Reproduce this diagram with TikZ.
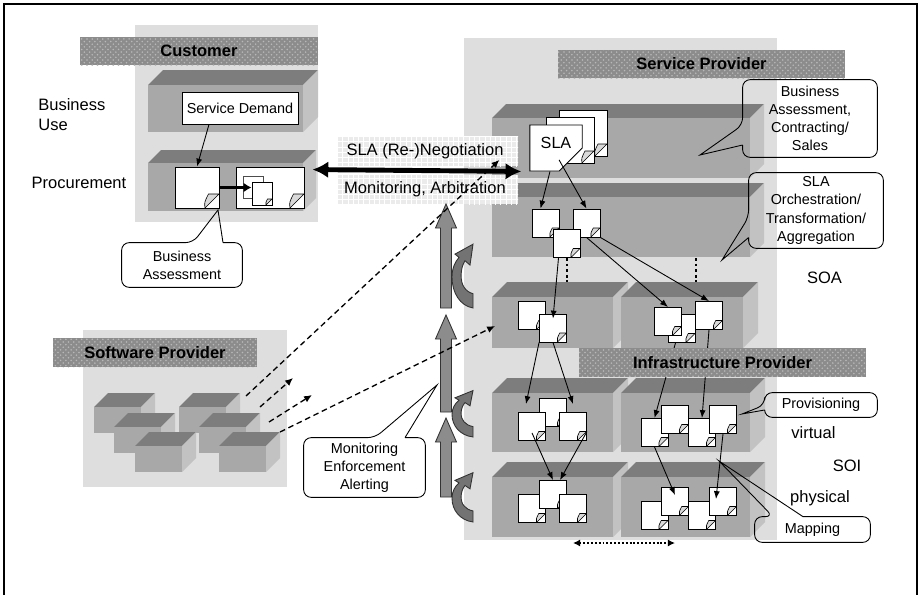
\documentclass[tikz,border=0pt]{standalone}
\usepackage{fontspec}
\setmainfont{Liberation Sans}
\usetikzlibrary{arrows.meta,calc,patterns,shapes.misc,positioning}
\newcommand{\pxunit}{0.02cm}
\colorlet{bggray}{black!13}
\colorlet{slabfront}{black!34}
\colorlet{slabtop}{black!51}
\colorlet{slabside}{black!24}
\colorlet{foldgray}{black!15}
\tikzset{
    framesty/.style={line width=1.1pt},
    bannersty/.style={fill=black!45, postaction={pattern=crosshatch dots, pattern color=black!28}, inner sep=0pt, font=\bfseries\fontsize{9.4}{11}\selectfont},
    bandsty/.style={fill=black!8, postaction={pattern=grid, pattern color=white}},
    lblsty/.style={font=\fontsize{9.4}{11}\selectfont, inner sep=0pt},
    callsty/.style={font=\fontsize{8.2}{10.3}\selectfont, align=center, inner sep=0pt},
    calllinesty/.style={line width=0.5pt, rounded corners=0.15cm},
    sheetsty/.style={chamfered rectangle, chamfered rectangle corners=south east,
        chamfered rectangle xsep=#1*\pxunit, chamfered rectangle ysep=#1*\pxunit,
        draw, fill=white, line width=0.5pt, inner sep=0pt, font=\fontsize{9.2}{11}\selectfont,
        path picture={\draw[fill=foldgray, line width=0.35pt]
            ($(path picture bounding box.south east)+(-#1*\pxunit,0pt)$)
            .. controls +(-0.05*#1*\pxunit,0.4*#1*\pxunit) ..
            ($(path picture bounding box.south east)+(-0.75*#1*\pxunit,1.0*#1*\pxunit)$)
            -- ($(path picture bounding box.south east)+(0pt,#1*\pxunit)$) -- cycle;}},
    smallsheet/.style={sheetsty=9, minimum width=27*\pxunit, minimum height=28*\pxunit},
    flowsty/.style={-{Latex[length=4.5pt,width=3.4pt]}, line width=0.5pt},
    swsty/.style={-{Latex[length=4.5pt,width=4pt]}, line width=0.75pt, dash pattern=on 3.2pt off 2.1pt},
    dotsty/.style={line width=1.6pt, dash pattern=on 1.6pt off 1.6pt},
    blocksty/.style={fill=black!45, draw=black!80, line width=0.5pt},
    loopsty/.style={fill=black!55, draw=black!80, line width=0.5pt},
}
% box seen from the front: front face, top face and right side
\newcommand{\slab}[5]{%
  \fill[slabtop] (#1,#2) -- (#1+#5,#2-#5) -- (#3+#5,#2-#5) -- (#3,#2) -- cycle;
  \fill[slabside] (#3,#2) -- (#3+#5,#2-#5) -- (#3+#5,#4-#5) -- (#3,#4) -- cycle;
  \fill[slabfront] (#1,#2) rectangle (#3,#4);
}
\newcommand{\swcube}[3]{%
  \slab{#2}{#3}{#2+47}{#3+26}{14}
  \coordinate (#1) at (#2+61,#3-14);
}
% upward block arrow: x, tip, bottom
\newcommand{\blockup}[3]{%
  \draw[blocksty] (#1-5.5,#3) -- (#1-5.5,#2+24) -- (#1-10.5,#2+24) -- (#1,#2)
    -- (#1+10.5,#2+24) -- (#1+5.5,#2+24) -- (#1+5.5,#3) -- cycle;
}
% curled arrow beside a block arrow
\newcommand{\loopup}[2]{%
  \draw[loopsty, shift={#1}, yscale=#2]
    (21,0) .. controls (8,-2) and (0,-14) .. (0,-28)
    .. controls (0,-36) and (3,-42) .. (7,-46)
    -- (3,-49) -- (21,-58) -- (18,-39) -- (13,-43)
    .. controls (8,-36) and (8,-24) .. (12,-19)
    .. controls (14,-16) and (17,-14) .. (21,-13) -- cycle;
}
% callout outlines, pointer leaving the west or the north side
\newcommand{\callwest}[4]{%
  \draw[calllinesty] ([yshift=#3*\pxunit]#1.west) -- (#1.south west) -- (#1.south east)
    -- (#1.north east) -- (#1.north west) -- ([yshift=#2*\pxunit]#1.west)
    [sharp corners] -- #4 -- ([yshift=#3*\pxunit]#1.west);
}
\newcommand{\callnorth}[4]{%
  \draw[calllinesty] ([xshift=#3*\pxunit]#1.north) -- (#1.north east) -- (#1.south east)
    -- (#1.south west) -- (#1.north west) -- ([xshift=#2*\pxunit]#1.north)
    [sharp corners] -- #4 -- ([xshift=#3*\pxunit]#1.north);
}

\begin{document}
\begin{tikzpicture}[x=\pxunit, y=-\pxunit]
  \useasboundingbox (0,0) rectangle (921,595);
  \draw[framesty] (4,600) -- (4,4) -- (917,4) -- (917,600);

  % group backgrounds
  \fill[bggray] (135,25) rectangle (318,222);
  \fill[bggray] (464,38) rectangle (777,540);
  \fill[bggray] (83,330) rectangle (287,487);

  % customer layers
  \slab{148}{85}{303}{132}{15}
  \slab{148}{163}{303}{211}{13}

  % provider layers
  \slab{492}{118}{750}{178}{14}
  \slab{492}{197}{750}{257}{14}
  \slab{492}{297}{613}{348}{15}
  \slab{621}{297}{743}{348}{15}
  \slab{492}{393}{613}{452}{15}
  \slab{621}{393}{750}{452}{15}
  \slab{492}{477}{613}{537}{15}
  \slab{621}{477}{750}{537}{15}

  % software components
  \swcube{c1}{94}{407}
  \swcube{c4}{179}{407}
  \swcube{c2}{114}{427}
  \swcube{c5}{199}{427}
  \swcube{c3}{135}{446}
  \swcube{c6}{219}{446}

  \fill[bandsty] (338,136) rectangle (518,166);
  \fill[bandsty] (338,175) rectangle (518,204);

  \draw[dotsty] (567,258) -- (567,282);
  \draw[dotsty] (696,258) -- (696,282);

  % customer side
  \node[draw, fill=white, line width=0.5pt, minimum width=116*\pxunit, minimum height=32*\pxunit, inner sep=0pt, font=\fontsize{8.2}{10}\selectfont] (sdem) at (240,108) {Service Demand};
  \node[sheetsty=14, minimum width=44*\pxunit, minimum height=41*\pxunit] (cdoc1) at (197,187.5) {};
  \node[sheetsty=14, minimum width=68*\pxunit, minimum height=41*\pxunit] (cdoc2) at (270,187.5) {};
  \node[sheetsty=5, minimum width=20*\pxunit, minimum height=22*\pxunit, draw=black!70] (cin1) at (253,187) {};
  \node[sheetsty=6, minimum width=20*\pxunit, minimum height=23*\pxunit] (cin2) at (262,193.5) {};

  % SLA stack
  \node[sheetsty=12, minimum width=48*\pxunit, minimum height=46*\pxunit] (slaC) at (583,133) {};
  \node[sheetsty=12, minimum width=48*\pxunit, minimum height=46*\pxunit] (slaB) at (570,140) {};
  \node[sheetsty=12, minimum width=48*\pxunit, minimum height=46*\pxunit, text depth=6pt] (slaA) at (556,148) {SLA};

  \node[smallsheet] (l2a) at (545.5,223) {};
  \node[smallsheet] (l2b) at (586.5,223) {};
  \node[smallsheet] (l2c) at (566.5,243.5) {};

  \node[smallsheet] (l3l1) at (532,315.5) {};
  \node[smallsheet] (l3l2) at (553,328) {};
  \node[smallsheet] (l3r2) at (681.5,328.5) {};
  \node[smallsheet] (l3r1) at (668,321.5) {};
  \node[smallsheet] (l3r3) at (709,315.5) {};

  \node[smallsheet] (l4l2) at (553,412.5) {};
  \node[smallsheet] (l4l1) at (532,426.5) {};
  \node[smallsheet] (l4l3) at (573,426.5) {};
  \node[smallsheet] (l4r1) at (654.5,432.5) {};
  \node[smallsheet] (l4r2) at (675,419.5) {};
  \node[smallsheet] (l4r3) at (702,432.5) {};
  \node[smallsheet] (l4r4) at (723,419.5) {};

  \node[smallsheet] (l5l1) at (532,508.5) {};
  \node[smallsheet] (l5l2) at (553,494.5) {};
  \node[smallsheet] (l5l3) at (573,508.5) {};
  \node[smallsheet] (l5r1) at (654.5,515.5) {};
  \node[smallsheet] (l5r2) at (675,501.5) {};
  \node[smallsheet] (l5r3) at (702,515.5) {};
  \node[smallsheet] (l5r4) at (723,501.5) {};

  % refinement arrows
  \draw[flowsty] ([xshift=-31*\pxunit]sdem.south) -- (cdoc1.north);
  \draw[-{Latex[length=4.5pt,width=5.5pt]}, line width=1.7pt] (cdoc1.east) -- (cdoc1.east -| cin2.west);
  \draw[flowsty] ([xshift=-6*\pxunit]slaA.south) -- ([xshift=-5*\pxunit]l2a.north);
  \draw[flowsty] ([xshift=-12*\pxunit]slaA.south east) -- (l2b.north);
  \draw[flowsty] ([xshift=-8*\pxunit]l2c.south) -- ([yshift=-5*\pxunit]l3l2.north);
  \draw[flowsty] (l2b.south) -- (l3r1.north);
  \draw[flowsty] (l2b.south east) -- (l3r3.north);
  \draw[flowsty] (l3l2.south west) -- ([xshift=-6*\pxunit,yshift=8*\pxunit]l4l1.north);
  \draw[flowsty] (l3l2.south) -- ([yshift=8*\pxunit]l4l3.north);
  \draw[flowsty] ([xshift=-6*\pxunit]l3r2.south) -- (l4r1.north);
  \draw[flowsty] (l3r3.south) -- (l4r3.north);
  \draw[flowsty] ([yshift=8*\pxunit]l4l1.south) -- (l5l2.north);
  \draw[flowsty] ([yshift=-5*\pxunit]l4l3.east) -- ([xshift=7*\pxunit]l5l2.north);
  \draw[flowsty] (l4r1.south) -- ([yshift=-8*\pxunit]l5r2.north);
  \draw[flowsty] (l4r4.south) -- ([xshift=-7*\pxunit,yshift=-12*\pxunit]l5r4.north);

  \coordinate (migl) at (573,543);
  \coordinate (migr) at (675,543);
  \draw[{Latex[length=4pt,width=4pt]}-{Latex[length=4pt,width=4pt]}, line width=1.1pt, dash pattern=on 1.1pt off 1.1pt] (migl) -- (migr);

  % role banners
  \node[bannersty, minimum width=238*\pxunit, minimum height=28*\pxunit] (custbanner) at (199,51) {Customer};
  \node[bannersty, minimum width=287*\pxunit, minimum height=28*\pxunit] (spbanner) at (701.5,64) {Service Provider};
  \node[bannersty, minimum width=287*\pxunit, minimum height=29*\pxunit] (ipbanner) at (722.5,362.5) {Infrastructure Provider};
  \node[bannersty, minimum width=204*\pxunit, minimum height=29*\pxunit] (swbanner) at (155,352.5) {Software Provider};

  % callouts
  \node[callsty, minimum width=134*\pxunit, minimum height=77*\pxunit] (bacall) at (810,118.5) {Business\\Assessment,\\Contracting/\\Sales};
  \callwest{bacall}{-6.5}{-26.5}{(700,155)}
  \node[callsty, minimum width=134*\pxunit, minimum height=75*\pxunit] (orcall) at (816,210.5) {SLA\\Orchestration/\\Transformation/\\Aggregation};
  \callwest{orcall}{-6.5}{-27}{(722,260)}
  \node[callsty, minimum width=112*\pxunit, minimum height=24*\pxunit] (provcall) at (821,405) {Provisioning};
  \callwest{provcall}{0}{-5}{(742,414)}
  \node[callsty, minimum width=115*\pxunit, minimum height=25*\pxunit] (mapcall) at (812.5,529.5) {Mapping};
  \callnorth{mapcall}{-39.5}{-9.5}{(719,461)}
  \node[callsty, minimum width=120*\pxunit, minimum height=44*\pxunit] (cbacall) at (182,265) {Business\\Assessment};
  \callnorth{cbacall}{11}{41}{(218,210)}
  \node[callsty, minimum width=121*\pxunit, minimum height=59*\pxunit] (moncall) at (364.5,467.5) {Monitoring\\Enforcement\\Alerting};
  \callnorth{moncall}{10.5}{40.5}{(437,385)}

  % layer names
  \node[lblsty, align=left, anchor=west] (buslbl) at (38,114.5) {Business\\Use};
  \node[lblsty] (proclbl) at (79,183) {Procurement};
  \node[lblsty] (soalbl) at (824.5,278) {SOA};
  \node[lblsty] (virtlbl) at (813.5,433) {virtual};
  \node[lblsty] (soilbl) at (847,466) {SOI};
  \node[lblsty] (physlbl) at (820,498) {physical};
  \node[lblsty] (negtxt) at (425,151) {SLA (Re-)Negotiation};
  \node[lblsty] (arbtxt) at (425,189) {Monitoring, Arbitration};

  \draw[{Latex[length=9pt,width=9.5pt]}-{Latex[length=9pt,width=9.5pt]}, line width=2.8pt]
    ([xshift=8*\pxunit,yshift=-3*\pxunit]cdoc2.north east) -- ([xshift=-8*\pxunit]slaA.south west);

  % monitoring feedback
  \blockup{446}{204}{308}
  \blockup{446}{315}{412}
  \blockup{446}{418}{497}
  \loopup{(452,308)}{1.1}
  \loopup{(452,437)}{0.8}
  \loopup{(452,522)}{0.85}

  % software delivery
  \coordinate (sw2tip) at (293,378);
  \coordinate (sw3tip) at (312,395);
  \draw[swsty] ([xshift=6*\pxunit,yshift=-3*\pxunit]c4) -- ([xshift=-30*\pxunit,yshift=-12*\pxunit]slaA.west);
  \draw[swsty] ([yshift=6*\pxunit]c5) -- (sw2tip);
  \draw[swsty] ([xshift=9*\pxunit,yshift=-9*\pxunit]c5) -- (sw3tip);
  \draw[swsty] (c6) -- ([xshift=-23*\pxunit,yshift=-10.5*\pxunit]l3l1.west);
\end{tikzpicture}
\end{document}
